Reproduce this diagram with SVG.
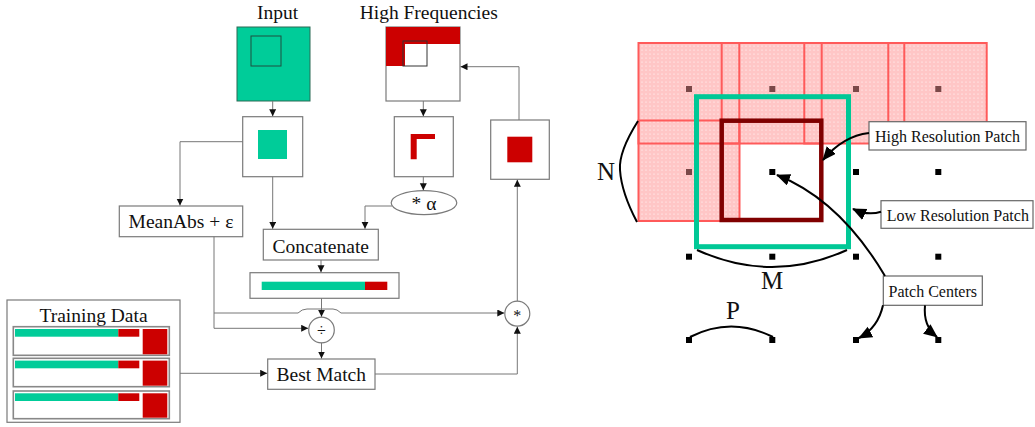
<svg xmlns="http://www.w3.org/2000/svg" width="1035" height="427" viewBox="0 0 1035 427">
<style>
text{font-family:"Liberation Serif","Times New Roman",serif;fill:#111}
.lbl{font-size:19.5px;text-anchor:middle}
.sm{font-size:16px}
.box{fill:#fff;stroke:#7a7a7a;stroke-width:1.2}
.ln{fill:none;stroke:#777;stroke-width:1}
.teal{fill:#00cc99}
.red{fill:#cc0000}
.row{fill:#fff;stroke:#888;stroke-width:1.6}
.pk{fill:url(#dots)}
.pks{fill:none;stroke:#ff5a5a;stroke-width:2}
.dd{fill:#7a4848}
.bd{fill:#000}
.cv{fill:none;stroke:#000;stroke-width:2}
.cbox{fill:#fff;stroke:#666;stroke-width:1.2}
</style>
<defs>
<marker id="a" markerUnits="userSpaceOnUse" markerWidth="8" markerHeight="8" refX="7" refY="3.5" orient="auto">
<path d="M0,0 L7,3.5 L0,7 z" fill="#111"/>
</marker>
<marker id="b" markerUnits="userSpaceOnUse" markerWidth="16" markerHeight="14" refX="13" refY="6" orient="auto">
<path d="M0,0 L14,6 L0,12 z" fill="#000"/>
</marker>
<pattern id="dots" width="4" height="4" patternUnits="userSpaceOnUse">
<rect width="4" height="4" fill="#ffc6c6"/>
<circle cx="2" cy="2" r="0.6" fill="#fff"/>
</pattern>
</defs>

<!-- Left diagram -->
<g id="input">
<text class="lbl" x="277.7" y="19">Input</text>
<rect x="237" y="27" width="73" height="74" class="teal" stroke="#2a6a55" stroke-width="1"/>
<rect x="251" y="36" width="30" height="30" fill="none" stroke="#1f4f40" stroke-width="1"/>
</g>
<g id="highfreq">
<text class="lbl" x="428.7" y="19">High Frequencies</text>
<rect x="386" y="27" width="74" height="74" class="box"/>
<path d="M386,27 H460 V44 H405 V66 H386 Z" class="red"/>
<rect x="403" y="41" width="24" height="25" fill="none" stroke="#333" stroke-width="1"/>
</g>
<g id="box1">
<rect x="242.7" y="116.7" width="60" height="60" class="box"/>
<rect x="258" y="130" width="29" height="29" class="teal"/>
</g>
<g id="box2">
<rect x="394.3" y="116.7" width="59" height="60" class="box"/>
<path d="M410.7,134 H435 V139 H416.7 V159.3 H410.7 Z" class="red"/>
</g>
<g id="box3">
<rect x="490.7" y="120" width="58.6" height="59.3" class="box"/>
<rect x="507.3" y="136.7" width="25" height="25.6" class="red"/>
</g>
<g id="meanabs">
<rect x="119.3" y="206" width="123.4" height="30.7" class="box"/>
<text class="lbl" x="181" y="228.3">MeanAbs + ε</text>
</g>
<g id="alpha">
<ellipse cx="424" cy="202.7" rx="32.8" ry="12" class="box"/>
<text class="lbl" x="424" y="210">* α</text>
</g>
<g id="concat">
<rect x="263.3" y="229.3" width="115" height="30.7" class="box"/>
<text class="lbl" x="320.8" y="252.7">Concatenate</text>
</g>
<g id="vector">
<rect x="250" y="272.7" width="149" height="25.6" class="box"/>
<rect x="261.7" y="281.7" width="103.3" height="8.3" class="teal"/>
<rect x="365" y="281.7" width="22.3" height="8.3" class="red"/>
</g>
<g id="divide">
<circle cx="321.5" cy="330" r="12.8" class="box"/>
<text class="sm" x="321.5" y="335.5" text-anchor="middle">÷</text>
</g>
<g id="multiply">
<circle cx="517.3" cy="313.7" r="12.5" class="box"/>
<text class="sm" x="517.3" y="321" text-anchor="middle">*</text>
</g>
<g id="bestmatch">
<rect x="267.7" y="359" width="107.3" height="30.3" class="box"/>
<text class="lbl" x="321.3" y="380.7">Best Match</text>
</g>
<g id="training">
<rect x="7" y="300" width="173" height="122.3" class="box"/>
<text class="lbl" x="93.5" y="321.7">Training Data</text>
<rect x="13.3" y="326.7" width="156" height="28.6" class="row"/>
<rect x="15" y="329" width="103.3" height="7.7" class="teal"/>
<rect x="118.3" y="329" width="21" height="7.7" class="red"/>
<rect x="142.7" y="329" width="24.6" height="25.3" class="red"/>
<rect x="13.3" y="358.3" width="156" height="28.4" class="row"/>
<rect x="15" y="360.6" width="103.3" height="7.7" class="teal"/>
<rect x="118.3" y="360.6" width="21" height="7.7" class="red"/>
<rect x="142.7" y="360.6" width="24.6" height="25.1" class="red"/>
<rect x="13.3" y="391" width="156" height="27.7" class="row"/>
<rect x="15" y="393.3" width="103.3" height="7.7" class="teal"/>
<rect x="118.3" y="393.3" width="21" height="7.7" class="red"/>
<rect x="142.7" y="393.3" width="24.6" height="24.4" class="red"/>
</g>
<g id="connectors">
<path class="ln" d="M272.7,101 V116.2" marker-end="url(#a)"/>
<path class="ln" d="M423.3,101 V116.2" marker-end="url(#a)"/>
<path class="ln" d="M519,120 V66.7 H460.5" marker-end="url(#a)"/>
<path class="ln" d="M242.7,141.7 H180 V205.5" marker-end="url(#a)"/>
<path class="ln" d="M272.7,176.7 V228.8" marker-end="url(#a)"/>
<path class="ln" d="M423.3,176.7 V190.2" marker-end="url(#a)"/>
<path class="ln" d="M392,206 H365 V228.8" marker-end="url(#a)"/>
<path class="ln" d="M321,260 V272.2" marker-end="url(#a)"/>
<path class="ln" d="M321.5,298.3 V316.7" marker-end="url(#a)"/>
<path class="ln" d="M214,236.7 V328.3 H308.2" marker-end="url(#a)"/>
<path class="ln" d="M214,313 H298 Q302,309 307,309 H333 Q337,309 341,313 H504.3" marker-end="url(#a)"/>
<path class="ln" d="M517.3,301.2 V179.8" marker-end="url(#a)"/>
<path class="ln" d="M321.5,342.8 V358.5" marker-end="url(#a)"/>
<path class="ln" d="M180,373.3 H267.2" marker-end="url(#a)"/>
<path class="ln" d="M375,374 H517.3 V326.7" marker-end="url(#a)"/>
</g>

<!-- Right diagram -->
<g id="patches">
<rect x="638.5" y="43" width="100.8" height="100.5" class="pk"/>
<rect x="721.7" y="43" width="100" height="100.5" class="pk"/>
<rect x="804.3" y="43" width="100" height="100.5" class="pk"/>
<rect x="888.3" y="43" width="98.4" height="100.5" class="pk"/>
<rect x="638.5" y="120.5" width="101" height="100.5" class="pk"/>
<rect x="638.5" y="43" width="100.8" height="100.5" class="pks"/>
<rect x="721.7" y="43" width="100" height="100.5" class="pks"/>
<rect x="804.3" y="43" width="100" height="100.5" class="pks"/>
<rect x="888.3" y="43" width="98.4" height="100.5" class="pks"/>
<rect x="638.5" y="120.5" width="101" height="100.5" class="pks"/>
</g>
<g id="centers">
<rect x="686" y="86" width="6" height="6" class="dd"/>
<rect x="769.3" y="86" width="6" height="6" class="dd"/>
<rect x="853" y="86" width="6" height="6" class="dd"/>
<rect x="935.3" y="86" width="6" height="6" class="dd"/>
<rect x="686" y="169" width="6" height="6" class="dd"/>
<rect x="769.3" y="169" width="6" height="6" class="bd"/>
<rect x="853" y="169" width="6" height="6" class="bd"/>
<rect x="935.3" y="169" width="6" height="6" class="bd"/>
<rect x="686" y="253.7" width="6" height="6" class="bd"/>
<rect x="769.3" y="253.7" width="6" height="6" class="bd"/>
<rect x="853" y="253.7" width="6" height="6" class="bd"/>
<rect x="935.3" y="253.7" width="6" height="6" class="bd"/>
<rect x="686" y="337" width="6" height="6" class="bd"/>
<rect x="769.3" y="337" width="6" height="6" class="bd"/>
<rect x="853" y="337" width="6" height="6" class="bd"/>
<rect x="935.3" y="337" width="6" height="6" class="bd"/>
</g>
<g id="lowres">
<rect x="696.5" y="96.7" width="152" height="150" fill="none" stroke="#00c896" stroke-width="5"/>
</g>
<g id="highres">
<rect x="721.7" y="120.7" width="99.6" height="99.3" fill="none" stroke="#800000" stroke-width="4.5"/>
</g>
<g id="braces">
<path class="cv" d="M638,121 C626,140 619,158 620,170 C621,185 628,205 637,222"/>
<text x="597" y="180" style="font-size:25px">N</text>
<path class="cv" d="M697,250 Q772,284 847,250"/>
<text x="772" y="289.3" style="font-size:25px" text-anchor="middle">M</text>
<path class="cv" d="M690,337 Q731,316 773,337"/>
<text x="733" y="319.3" style="font-size:25px" text-anchor="middle">P</text>
</g>
<g id="label-high">
<rect x="869" y="121.7" width="157" height="28.3" class="cbox"/>
<text class="sm" x="947.5" y="141.7" text-anchor="middle">High Resolution Patch</text>
</g>
<g id="label-low">
<rect x="881" y="200.7" width="152" height="27.6" class="cbox"/>
<text class="sm" x="886.7" y="220.7">Low Resolution Patch</text>
</g>
<g id="label-centers">
<rect x="883.3" y="276" width="99" height="29.3" class="cbox"/>
<text class="sm" x="932.8" y="296.7" text-anchor="middle">Patch Centers</text>
</g>
<g id="callouts">
<path class="cv" d="M869,133 Q843,136 823,160" marker-end="url(#b)"/>
<path class="cv" d="M881,211.7 Q868,216 853,209" marker-end="url(#b)"/>
<path class="cv" d="M885,276 Q840,200 777,175" marker-end="url(#b)"/>
<path class="cv" d="M883,305.3 Q878,328 859,338" marker-end="url(#b)"/>
<path class="cv" d="M925,305.3 Q923,326 937,337" marker-end="url(#b)"/>
</g>
</svg>
